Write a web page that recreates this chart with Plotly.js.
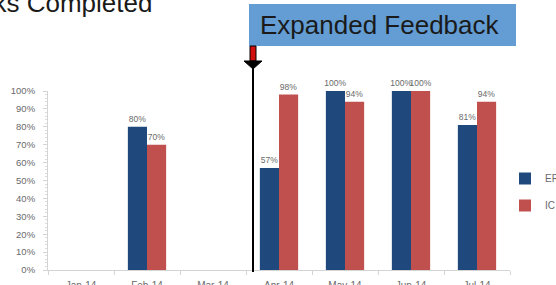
<!DOCTYPE html>
<html>
<head>
<meta charset="utf-8">
<script src="https://cdn.plot.ly/plotly-3.0.1.min.js"></script>
<style>html,body{margin:0;padding:0;background:#fff;overflow:hidden}#chart{width:556px;height:285px}</style>
</head>
<body>
<div id="chart"></div>
<script>
const months = ["Jan-14","Feb-14","Mar-14","Apr-14","May-14","Jun-14","Jul-14"];
const erValues = [null, 0.80, null, 0.57, 1.00, 1.00, 0.81];
const icValues = [null, 0.70, null, 0.98, 0.94, 1.00, 0.94];
const yTickVals = [0,0.1,0.2,0.3,0.4,0.5,0.6,0.7,0.8,0.9,1.0];
const yTickText = ["0%","10%","20%","30%","40%","50%","60%","70%","80%","90%","100%"];

const W = 556, H = 285, L = 48, R = 46, T = 91, B = 15;
const PW = W - L - R, PH = H - T - B;
const px = v => (v - L) / PW;
const py = v => (H - B - v) / PH;

const fmt = a => a.map(v => v == null ? "" : Math.round(v * 100) + "%");
const smallFamily = "Liberation Sans Narrow, Arial Narrow, Liberation Sans, sans-serif";
const labelFont = {family: smallFamily, size: 8.5, color: "#6a6a6a"};

const traces = [
  {type: "bar", name: "ER", x: months, y: erValues, text: fmt(erValues),
   textposition: "outside", constraintext: "none", cliponaxis: false,
   textfont: labelFont, marker: {color: "#1f497d"}, hoverinfo: "none", legendgroup: "a"},
  {type: "bar", name: "IC", x: months, y: icValues, text: fmt(icValues),
   textposition: "outside", constraintext: "none", cliponaxis: false,
   textfont: labelFont, marker: {color: "#c0504d"}, hoverinfo: "none", legendgroup: "b"}
];

const layout = {
  width: W, height: H,
  margin: {l: L, r: R, t: T, b: B, pad: 0, autoexpand: false},
  paper_bgcolor: "#fff", plot_bgcolor: "#fff",
  barmode: "group", bargap: 0.42, bargroupgap: 0,
  showlegend: true,
  legend: {x: px(505), xanchor: "left", y: py(164), yanchor: "top",
    font: {family: smallFamily, size: 10, color: "#6a6a6a"},
    traceorder: "grouped", tracegroupgap: 8, bgcolor: "rgba(0,0,0,0)"},
  xaxis: {type: "category", range: [-0.5, 6.5], showgrid: false, zeroline: false,
    showline: true, linecolor: "#d4d4d4", linewidth: 1, automargin: false,
    ticks: "outside", tickson: "boundaries", ticklen: 4, tickcolor: "#d4d4d4",
    tickfont: {family: smallFamily, size: 10, color: "#6a6a6a"},
    ticklabelstandoff: 6, fixedrange: true},
  yaxis: {range: [0, 1], tickvals: yTickVals, ticktext: yTickText, showgrid: false, zeroline: false,
    showline: true, linecolor: "#d4d4d4", linewidth: 1, automargin: false,
    ticks: "outside", ticklen: 4, tickcolor: "#d4d4d4",
    minor: {dtick: 0.02, ticks: "outside", ticklen: 2, tickcolor: "#dcdcdc", showgrid: false},
    tickfont: {family: smallFamily, size: 9.5, color: "#6a6a6a"},
    ticklabelstandoff: 6, fixedrange: true},
  shapes: [
    {type: "rect", xref: "paper", yref: "paper", x0: px(249), x1: px(516), y0: py(46), y1: py(4),
     fillcolor: "#639dd3", line: {width: 0}, layer: "above"},
    {type: "line", xref: "paper", yref: "paper", x0: px(253), x1: px(253), y0: py(272), y1: py(60),
     line: {color: "#000", width: 2}, layer: "above"},
    {type: "rect", xref: "paper", yref: "paper", x0: px(250), x1: px(256), y0: py(61), y1: py(46),
     fillcolor: "#d10f0f", line: {color: "#000", width: 1}, layer: "above"},
    {type: "path", xref: "paper", yref: "paper",
     path: `M ${px(244)} ${py(61)} L ${px(262)} ${py(61)} L ${px(253)} ${py(69)} Z`,
     fillcolor: "#000", line: {color: "#000", width: 1}, layer: "above"}
  ],
  annotations: [
    {xref: "paper", yref: "paper", x: px(258), y: py(25), xanchor: "left", yanchor: "middle",
     text: "Expanded Feedback", showarrow: false,
     font: {family: "Liberation Sans, Arial, sans-serif", size: 26, color: "#1a1a1a"}},
    {xref: "paper", yref: "paper", x: px(154), y: py(3), xanchor: "right", yanchor: "middle",
     text: "Tasks Completed", showarrow: false,
     font: {family: "Liberation Sans, Arial, sans-serif", size: 26, color: "#1a1a1a"}}
  ]
};

Plotly.newPlot("chart", traces, layout, {staticPlot: true, displayModeBar: false});
</script>
</body>
</html>
